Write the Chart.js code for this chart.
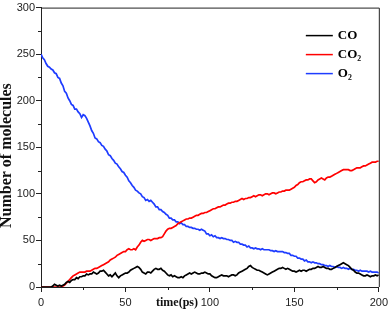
<!DOCTYPE html>
<html>
<head>
<meta charset="utf-8">
<title>Number of molecules vs time</title>
<script src="https://cdn.jsdelivr.net/npm/chart.js@4.4.1/dist/chart.umd.min.js"></script>
<style>
    html, body { margin: 0; padding: 0; background: #fff; }
    #wrap { width: 392px; height: 317px; }
</style>
</head>
<body>
<div id="wrap"><canvas id="chart" width="392" height="317"></canvas></div>
<script>
// time axis, 1 ps per sample
const timePs = Array.from({ length: 201 }, (_, i) => i);

const seriesLabels = ['CO', 'CO\u2082', 'O\u2082'];
const seriesColors = ['#000000', '#ff0000', '#1e3cff'];

// number of CO molecules
const coValues = [
    0, 0, 0, 0, 0, 0, 0, 1, 3, 2,
    1, 2, 1, 2, 3, 5, 6, 5, 7, 8,
    8, 10, 9, 11, 11, 12, 12, 14, 13, 14,
    14, 16, 15, 14, 15, 17, 17, 18, 16, 14,
    12, 13, 11, 13, 15, 12, 10, 12, 13, 14,
    15, 15, 16, 18, 19, 20, 21, 22, 21, 19,
    16, 15, 14, 16, 16, 15, 17, 19, 20, 19,
    19, 20, 18, 17, 15, 13, 12, 13, 11, 12,
    11, 10, 10, 11, 10, 12, 13, 14, 15, 14,
    15, 16, 15, 14, 14, 15, 15, 16, 15, 14,
    14, 12, 11, 10, 10, 11, 12, 13, 12, 12,
    12, 11, 12, 13, 13, 12, 13, 15, 16, 17,
    18, 19, 20, 22, 23, 21, 20, 19, 18, 18,
    17, 16, 15, 14, 13, 14, 15, 16, 17, 18,
    19, 20, 20, 21, 20, 19, 20, 19, 18, 17,
    17, 16, 17, 18, 17, 18, 18, 17, 18, 19,
    19, 20, 20, 21, 22, 21, 21, 22, 21, 20,
    20, 19, 19, 20, 21, 22, 23, 24, 25, 26,
    25, 24, 23, 21, 19, 18, 16, 15, 15, 14,
    13, 12, 12, 13, 12, 11, 12, 12, 13, 12,
    13
];

// number of CO2 molecules
const co2Values = [
    0, 0, 0, 0, 0, 0, 0, 0, 0, 0,
    0, 0, 0, 1, 2, 4, 6, 8, 10, 12,
    13, 14, 15, 16, 16, 16, 16, 17, 17, 17,
    18, 19, 20, 20, 21, 22, 23, 24, 25, 26,
    27, 29, 30, 31, 32, 34, 35, 36, 37, 38,
    38, 40, 41, 40, 40, 41, 40, 43, 45, 48,
    50, 49, 50, 51, 51, 50, 51, 52, 52, 52,
    53, 53, 54, 57, 60, 62, 63, 63, 64, 65,
    66, 68, 69, 70, 71, 72, 73, 73, 74, 74,
    75, 76, 77, 77, 78, 79, 79, 80, 80, 81,
    82, 83, 84, 84, 85, 86, 86, 87, 88, 88,
    89, 90, 90, 91, 91, 92, 92, 93, 94, 95,
    94, 95, 95, 96, 96, 97, 98, 97, 98, 99,
    99, 98, 99, 100, 100, 99, 100, 101, 101, 100,
    101, 102, 102, 103, 103, 104, 104, 104, 105, 106,
    107, 109, 110, 112, 113, 113, 114, 115, 115, 116,
    116, 114, 112, 113, 115, 116, 117, 116, 115, 117,
    118, 118, 119, 120, 121, 122, 123, 124, 125, 126,
    126, 126, 126, 125, 125, 126, 127, 128, 128, 128,
    129, 130, 130, 131, 132, 133, 134, 134, 134, 135,
    135
];

// number of O2 molecules
const o2Values = [
    250, 246, 244, 240, 237, 236, 234, 233, 230, 229,
    225, 224, 219, 216, 210, 208, 203, 200, 196, 195,
    191, 191, 188, 186, 182, 185, 184, 181, 177, 173,
    168, 165, 160, 159, 156, 155, 152, 151, 148, 146,
    142, 141, 138, 136, 133, 132, 129, 127, 124, 123,
    120, 118, 114, 112, 109, 107, 104, 103, 101, 100,
    97, 96, 93, 94, 92, 93, 91, 89, 86, 86,
    83, 83, 81, 80, 78, 77, 74, 74, 72, 72,
    70, 70, 68, 69, 67, 67, 65, 65, 64, 64,
    63, 63, 62, 62, 61, 62, 61, 60, 57, 57,
    55, 56, 54, 55, 53, 53, 52, 53, 52, 52,
    51, 51, 50, 50, 48, 49, 48, 48, 46, 46,
    45, 45, 43, 44, 42, 42, 41, 42, 41, 41,
    40, 41, 40, 40, 40, 40, 39, 39, 38, 39,
    38, 38, 38, 38, 37, 37, 36, 36, 34, 34,
    33, 33, 31, 31, 30, 30, 28, 29, 27, 27,
    26, 27, 26, 26, 25, 25, 24, 24, 23, 23,
    22, 23, 22, 22, 21, 22, 21, 21, 20, 21,
    20, 20, 19, 20, 19, 19, 18, 18, 17, 18,
    17, 17, 17, 17, 16, 17, 16, 16, 16, 16,
    15
];

const xTicks = [0, 50, 100, 150, 200];
const yTicks = [0, 50, 100, 150, 200, 250, 300];

const SERIF = '"Liberation Serif", "Times New Roman", Times, serif';
const SANS = '"Liberation Sans", Arial, sans-serif';
const AXIS_COLOR = '#222';

function toPoints(values) {
    return values.map((v, i) => ({ x: timePs[i], y: v }));
}

// frame on top/right, minor ticks, axis titles and the inside legend
const decorations = {
    id: 'decorations',
    afterDraw(chart) {
        const { ctx, chartArea: area, scales } = chart;
        ctx.save();

        // box
        ctx.strokeStyle = AXIS_COLOR;
        ctx.lineWidth = 1;
        ctx.beginPath();
        ctx.moveTo(area.left, area.top + 0.5);
        ctx.lineTo(area.right + 0.5, area.top + 0.5);
        ctx.lineTo(area.right + 0.5, area.bottom);
        ctx.stroke();

        // minor ticks halfway between major ones
        ctx.beginPath();
        for (let i = 0; i < xTicks.length - 1; i++) {
            const px = Math.round(scales.x.getPixelForValue((xTicks[i] + xTicks[i + 1]) / 2)) + 0.5;
            ctx.moveTo(px, area.bottom);
            ctx.lineTo(px, area.bottom + 3);
        }
        for (let i = 0; i < yTicks.length - 1; i++) {
            const py = Math.round(scales.y.getPixelForValue((yTicks[i] + yTicks[i + 1]) / 2)) + 0.5;
            ctx.moveTo(area.left, py);
            ctx.lineTo(area.left - 3, py);
        }
        ctx.stroke();

        // axis titles
        ctx.fillStyle = '#111';
        ctx.textAlign = 'center';
        ctx.textBaseline = 'middle';
        ctx.font = 'bold 12px ' + SERIF;
        ctx.fillText('time(ps)', area.left + 136, area.bottom + 16);

        ctx.save();
        ctx.translate(7, area.top + 148);
        ctx.rotate(-Math.PI / 2);
        ctx.font = 'bold 16px ' + SERIF;
        ctx.fillText('Number of molecules', 0, 0);
        ctx.restore();

        // legend
        ctx.textAlign = 'left';
        ctx.font = 'bold 13px ' + SERIF;
        chart.data.datasets.forEach((ds, i) => {
            const y = area.top + 28 + i * 19;
            const x0 = area.right - 73;
            ctx.strokeStyle = ds.borderColor;
            ctx.lineWidth = 1.5;
            ctx.beginPath();
            ctx.moveTo(x0, y);
            ctx.lineTo(x0 + 27, y);
            ctx.stroke();
            ctx.fillStyle = '#000';
            ctx.fillText(ds.label, x0 + 32, y);
        });

        ctx.restore();
    }
};

const datasets = [coValues, co2Values, o2Values].map((values, i) => ({
    label: seriesLabels[i],
    data: toPoints(values),
    borderColor: seriesColors[i],
    backgroundColor: seriesColors[i],
    borderWidth: 1.7,
    pointRadius: 0,
    tension: 0,
    fill: false
}));

new Chart(document.getElementById('chart'), {
    type: 'line',
    data: { datasets },
    plugins: [decorations],
    options: {
        responsive: false,
        animation: false,
        devicePixelRatio: 1,
        layout: { padding: { top: 5, right: 9, bottom: 0, left: 0 } },
        plugins: {
            legend: { display: false },
            tooltip: { enabled: false }
        },
        scales: {
            x: {
                type: 'linear',
                min: 0,
                max: 200,
                afterFit(scale) { scale.height = 30; },
                afterBuildTicks(scale) { scale.ticks = xTicks.map(v => ({ value: v })); },
                border: { display: true, color: AXIS_COLOR, width: 1 },
                grid: { drawOnChartArea: false, drawTicks: true, tickLength: 5, tickColor: AXIS_COLOR },
                ticks: {
                    padding: 4,
                    color: '#222',
                    maxRotation: 0,
                    font: { family: SANS, size: 11 }
                }
            },
            y: {
                type: 'linear',
                min: 0,
                max: 300,
                afterFit(scale) { scale.width = 41; },
                afterBuildTicks(scale) { scale.ticks = yTicks.map(v => ({ value: v })); },
                border: { display: true, color: AXIS_COLOR, width: 1 },
                grid: { drawOnChartArea: false, drawTicks: true, tickLength: 5, tickColor: AXIS_COLOR },
                ticks: {
                    padding: 1,
                    color: '#222',
                    font: { family: SANS, size: 11 }
                }
            }
        }
    }
});
</script>
</body>
</html>
